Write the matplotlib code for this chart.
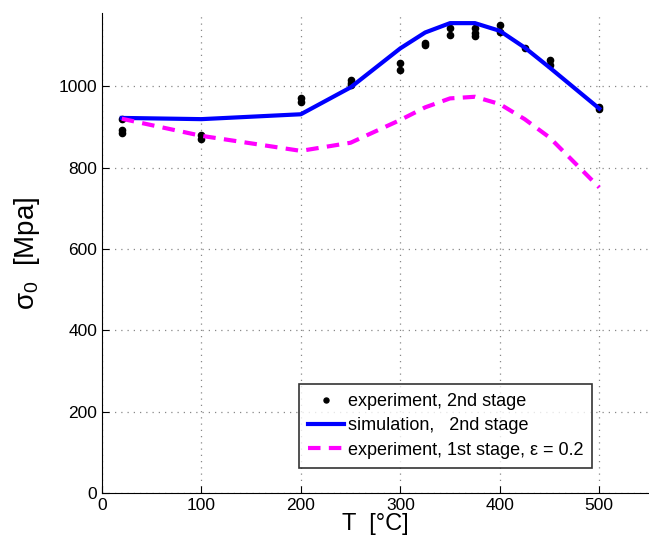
import numpy as np
import matplotlib
matplotlib.use('Agg')
import matplotlib.pyplot as plt

plt.rcParams['font.family'] = ['Liberation Sans', 'DejaVu Sans']
plt.rcParams['mathtext.fontset'] = 'custom'
plt.rcParams['mathtext.rm'] = 'Liberation Sans'
plt.rcParams['mathtext.it'] = 'Liberation Sans'

# experiment, 2nd stage (scattered points)
exp_T = [20, 20, 20, 100, 100, 200, 200, 250, 250, 250, 300, 300, 325, 325,
         350, 350, 375, 375, 375, 400, 400, 425, 450, 450, 500, 500]
exp_s = [920, 893, 884, 880, 871, 971, 961, 1016, 1009, 1004, 1057, 1039, 1106, 1101,
         1142, 1126, 1144, 1131, 1124, 1151, 1132, 1095, 1065, 1052, 949, 945]

# simulation, 2nd stage
sim_T = [20, 100, 200, 250, 300, 325, 350, 375, 400, 425, 450, 500]
sim_s = [922, 919, 931, 997, 1093, 1132, 1155, 1155, 1136, 1095, 1046, 945]

# experiment, 1st stage, eps = 0.2
st1_T = [20, 100, 200, 250, 300, 325, 350, 375, 400, 425, 450, 500]
st1_s = [920, 878, 841, 861, 917, 948, 970, 974, 956, 919, 874, 751]

fig = plt.figure(figsize=(6.49, 5.40), dpi=100)
ax = fig.add_axes([0.157, 0.087, 0.843, 0.889])

ax.plot(exp_T, exp_s, '.', color='black', markersize=9, label='experiment, 2nd stage')
ax.plot(sim_T, sim_s, '-', color='#0000ff', lw=3, label='simulation,   2nd stage')
ax.plot(st1_T, st1_s, '--', color='#ff00ff', lw=3, dashes=(3, 2),
        label='experiment, 1st stage, \u03b5 = 0.2')

ax.set_xlim(0, 550)
ax.set_ylim(0, 1180)
ax.set_xticks([0, 100, 200, 300, 400, 500])
ax.set_yticks([0, 200, 400, 600, 800, 1000])
ax.tick_params(direction='in', labelsize=12.5, length=5)
ax.grid(True, linestyle=(0, (1, 4)), color='#888888', lw=0.9)
ax.spines['top'].set_visible(False)
ax.spines['right'].set_visible(False)

ax.set_xlabel('T  [\u00b0C]', fontsize=17, labelpad=0)
ax.set_ylabel(r'$\sigma_0$  [Mpa]', fontsize=20, labelpad=12)

leg = ax.legend(loc='lower left', bbox_to_anchor=(0.36, 0.053), fontsize=13,
                frameon=True, fancybox=False, edgecolor='black',
                handlelength=2.0, handletextpad=0.2, borderpad=0.5,
                labelspacing=0.4, borderaxespad=0, markerscale=0.8)
leg.get_frame().set_linewidth(1.2)

fig.savefig('out.png', dpi=100)
